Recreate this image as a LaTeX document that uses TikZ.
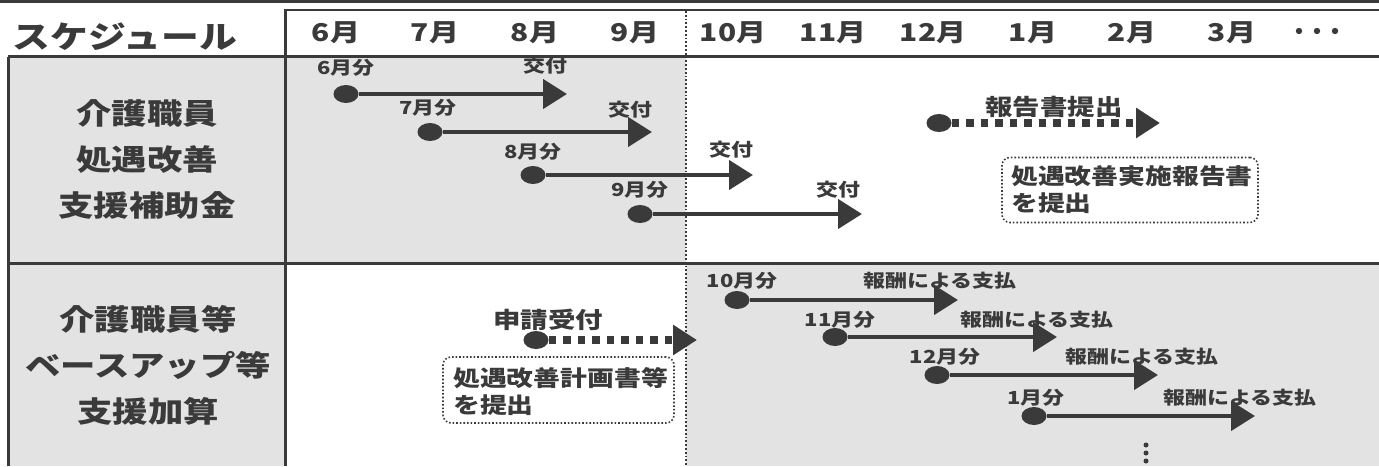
\documentclass[tikz,border=0pt]{standalone}
\usepackage{fontspec}
\setmainfont{Noto Sans CJK JP}[FakeStretch=1.22]
\usetikzlibrary{shapes.geometric,arrows.meta}
\definecolor{dk}{HTML}{3A3A3A}
\definecolor{gr}{HTML}{E3E3E3}
\tikzset{
  frame/.style={draw=dk, line width=3pt},
  dotn/.style={ellipse, fill=dk, minimum width=25pt, minimum height=18pt, inner sep=0pt},
  arr/.style={draw=dk, line width=4.5pt, -{Triangle[length=24pt,width=29pt]}},
  darr/.style={draw=dk, line width=7.5pt, dash pattern=on 7.5pt off 7pt, -{Triangle[length=24pt,width=29pt]}},
  mon/.style={text=dk, font=\fontsize{24.5}{24.5}\selectfont\bfseries, inner sep=0pt},
  lab/.style={text=dk, font=\fontsize{29}{46}\selectfont\bfseries, align=center, inner sep=0pt},
  sm/.style={text=dk, font=\fontsize{18}{18}\selectfont\bfseries, inner sep=0pt},
  md/.style={text=dk, font=\fontsize{22.5}{27}\selectfont\bfseries, inner sep=0pt},
  bx/.style={text=dk, font=\fontsize{22}{27}\selectfont\bfseries, inner sep=0pt},
  dbox/.style={draw=dk, line width=1.6pt, dotted, rounded corners=8pt, inner sep=0pt},
}
\begin{document}
\begin{tikzpicture}[x=1pt,y=-1pt]
\useasboundingbox (0,0) rectangle (1379,466);
% fills
\fill[gr] (8,57) rectangle (285,466);
\fill[gr] (285,57) rectangle (686,264);
\fill[gr] (686,264) rectangle (1379,466);
% frame lines
\draw[draw=dk, line width=3pt] (0,1.5) -- (1379,1.5);
\draw[draw=dk, line width=2pt] (285,10) -- (1379,10);
\draw[frame] (8,56.5) -- (1379,56.5);
\draw[frame] (8,263.5) -- (1379,263.5);
\draw[frame] (8,56.5) -- (8,466);
\draw[frame] (285,9) -- (285,466);
\draw[draw=dk, line width=1.8pt, dotted] (686,11) -- (686,466);
% title and months
\node[text=dk, font=\fontsize{31}{31}\selectfont\bfseries, inner sep=0pt] (title) at (125,37) {スケジュール};
\node[mon] (m6) at (336,33) {6月};
\node[mon] (m7) at (435,33) {7月};
\node[mon] (m8) at (535,33) {8月};
\node[mon] (m9) at (635,33) {9月};
\node[mon] (m10) at (733,33) {10月};
\node[mon] (m11) at (833,33) {11月};
\node[mon] (m12) at (933,33) {12月};
\node[mon] (m1) at (1033,33) {1月};
\node[mon] (m2) at (1132,33) {2月};
\node[mon] (m3) at (1232,33) {3月};
\foreach \x in {1299,1317,1335} \fill[dk] (\x,31) circle (3.2pt);
% left labels
\node[lab] (row1) at (147,159) {介護職員\\処遇改善\\支援補助金};
\node[lab] (row2) at (148,365) {介護職員等\\ベースアップ等\\支援加算};
% row 1 arrows
\node[dotn] (d6) at (346,94) {};
\coordinate (t6) at (567,94);
\draw[arr] (d6) -- (t6);
\node[sm] (l6) at (346,68) {6月分};
\node[sm] (k6) at (545,66) {交付};
\node[dotn] (d7) at (430,132) {};
\coordinate (t7) at (652,132);
\draw[arr] (d7) -- (t7);
\node[sm] (l7) at (428,108) {7月分};
\node[sm] (k7) at (630,110) {交付};
\node[dotn] (d8) at (533,175) {};
\coordinate (t8) at (753,175);
\draw[arr] (d8) -- (t8);
\node[sm] (l8) at (533,152) {8月分};
\node[sm] (k8) at (731,150) {交付};
\node[dotn] (d9) at (640,214) {};
\coordinate (t9) at (862,214);
\draw[arr] (d9) -- (t9);
\node[sm] (l9) at (640,190) {9月分};
\node[sm] (k9) at (838,190) {交付};
% report
\node[dotn] (dr) at (939,123) {};
\coordinate (tr) at (1160,123);
\draw[darr] (dr) -- (tr);
\node[md] (lr) at (1054,107) {報告書提出};
\node[dbox, minimum width=256pt, minimum height=65pt] (b1) at (1130,190) {};
\node[bx, anchor=west, align=left] (b1t) at (1011,190) {処遇改善実施報告書\\を提出};
% row 2
\node[dotn] (da) at (536,340) {};
\coordinate (ta) at (697,340);
\draw[darr] (da) -- (ta);
\node[md] (la) at (548,320) {申請受付};
\node[dbox, minimum width=231pt, minimum height=66pt] (b2) at (558.5,390) {};
\node[bx, anchor=west, align=left] (b2t) at (453,392) {処遇改善計画書等\\を提出};
\node[dotn] (e10) at (737,300) {};
\coordinate (u10) at (958,300);
\draw[arr] (e10) -- (u10);
\node[sm] (n10) at (742,281) {10月分};
\node[sm] (p10) at (940,281) {報酬による支払};
\node[dotn] (e11) at (835,337) {};
\coordinate (u11) at (1057,337);
\draw[arr] (e11) -- (u11);
\node[sm] (n11) at (840,320) {11月分};
\node[sm] (p11) at (1037,320) {報酬による支払};
\node[dotn] (e12) at (937,375) {};
\coordinate (u12) at (1158,375);
\draw[arr] (e12) -- (u12);
\node[sm] (n12) at (945,357) {12月分};
\node[sm] (p12) at (1142,357) {報酬による支払};
\node[dotn] (e1) at (1034,416) {};
\coordinate (u1) at (1255,416);
\draw[arr] (e1) -- (u1);
\node[sm] (n1) at (1036,398) {1月分};
\node[sm] (p1) at (1240,398) {報酬による支払};
\foreach \y in {445,453,461} \fill[dk] (1146,\y) circle (2.5pt);
\end{tikzpicture}
\end{document}
